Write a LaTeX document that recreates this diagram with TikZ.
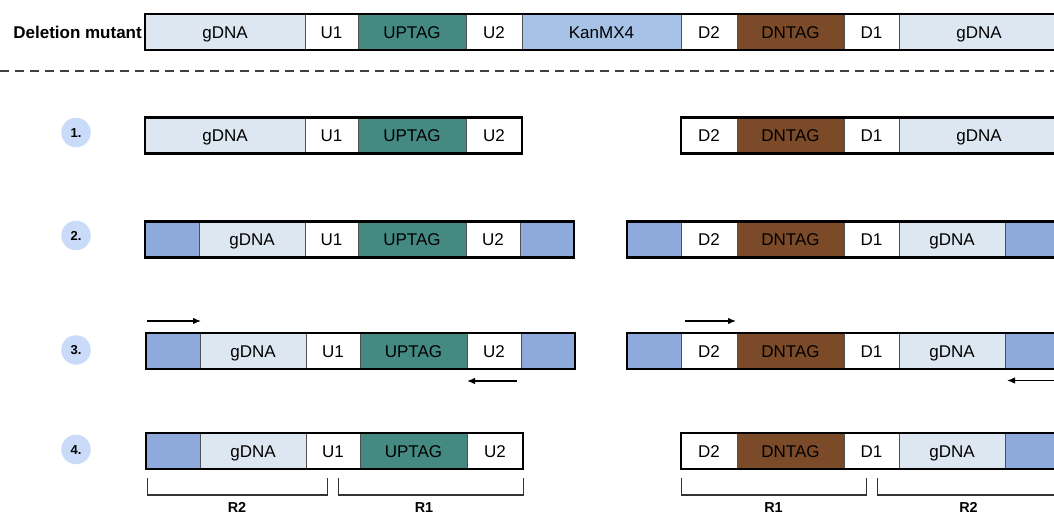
\documentclass[tikz,border=0pt]{standalone}
\usepackage{fontspec}
\setmainfont{Liberation Sans}
\usetikzlibrary{positioning}
\usetikzlibrary{arrows.meta}

\definecolor{gdnacol}{HTML}{DDE7F1}
\definecolor{uptagcol}{HTML}{448A83}
\definecolor{dntagcol}{HTML}{7B4A28}
\definecolor{kancol}{HTML}{A6C2E6}
\definecolor{tailcol}{HTML}{8EAADC}
\definecolor{numcol}{HTML}{C9DBF8}
\definecolor{segline}{HTML}{505050}
\definecolor{brkcol}{HTML}{333333}

\tikzset{
  seg/.style={draw=segline, line width=0.8pt, minimum height=36pt, inner sep=0pt, outer sep=0pt,
    text height=12.2pt, text depth=0pt, font=\fontsize{17}{17}\selectfont},
  gdna/.style={seg, fill=gdnacol},
  flank/.style={seg, fill=white},
  uptag/.style={seg, fill=uptagcol},
  dntag/.style={seg, fill=dntagcol},
  kan/.style={seg, fill=kancol},
  tail/.style={seg, fill=tailcol},
  bar/.style={draw=black, line width=2.6pt},
  numdot/.style={circle, fill=numcol, minimum size=29.5pt, inner sep=0pt,
    text height=9.4pt, text depth=0pt, font=\bfseries\fontsize{13}{13}\selectfont},
  primer/.style={line width=1.3pt, -{Latex[length=8pt,width=6.5pt]}},
  brk/.style={draw=brkcol, line width=1.3pt},
  rname/.style={inner sep=0pt, text height=10.3pt, text depth=0pt, font=\bfseries\fontsize{14.4}{14.4}\selectfont},
}

\begin{document}
\begin{tikzpicture}[x=1pt, y=-1pt]
\useasboundingbox (0,0) rectangle (1054,518);
\clip (0,0) rectangle (1054,518);

\node[gdna, minimum width=160pt] (t1) at (225,32) {gDNA};
\node[flank, minimum width=53pt] (t2) at (331.5,32) {U1};
\node[uptag, minimum width=108pt] (t3) at (412,32) {UPTAG};
\node[flank, minimum width=56pt] (t4) at (494,32) {U2};
\node[kan, minimum width=159pt] (t5) at (601.5,32) {KanMX4};
\node[flank, minimum width=56pt] (t6) at (709,32) {D2};
\node[dntag, minimum width=107pt] (t7) at (790.5,32) {DNTAG};
\node[flank, minimum width=55pt] (t8) at (871.5,32) {D1};
\node[gdna, minimum width=160pt] (t9) at (979,32) {gDNA};
\draw[bar] (t1.north west) rectangle (t9.south east);
\node[inner sep=0pt, text height=12.2pt, text depth=0pt, font=\bfseries\fontsize{17}{17}\selectfont,
  left=3pt of t1] (mutant) {Deletion mutant};

\coordinate (dl) at (0,71);
\coordinate (dr) at (1054,71);
\draw[draw=black!75, line width=1.6pt, dash pattern=on 9pt off 6pt] (dl) -- (dr);

\node[numdot] (n1) at (76,132.5) {1.};
\node[gdna, minimum width=160pt] (r1a) at (225,135.5) {gDNA};
\node[flank, minimum width=53pt] (r1b) at (331.5,135.5) {U1};
\node[uptag, minimum width=108pt] (r1c) at (412,135.5) {UPTAG};
\node[flank, minimum width=56pt] (r1d) at (494,135.5) {U2};
\draw[bar] (r1a.north west) rectangle (r1d.south east);
\node[flank, minimum width=56pt] (r1e) at (709,135.5) {D2};
\node[dntag, minimum width=107pt] (r1f) at (790.5,135.5) {DNTAG};
\node[flank, minimum width=55pt] (r1g) at (871.5,135.5) {D1};
\node[gdna, minimum width=160pt] (r1h) at (979,135.5) {gDNA};
\draw[bar] (r1e.north west) rectangle (r1h.south east);

\node[numdot] (n2) at (76,235.5) {2.};
\node[tail, minimum width=54pt] (r2a) at (172,239.5) {};
\node[gdna, minimum width=106pt] (r2b) at (252,239.5) {gDNA};
\node[flank, minimum width=53pt] (r2c) at (331.5,239.5) {U1};
\node[uptag, minimum width=108pt] (r2d) at (412,239.5) {UPTAG};
\node[flank, minimum width=54pt] (r2e) at (493,239.5) {U2};
\node[tail, minimum width=54pt] (r2f) at (547,239.5) {};
\draw[bar] (r2a.north west) rectangle (r2f.south east);
\node[tail, minimum width=54pt] (r2g) at (654,239.5) {};
\node[flank, minimum width=56pt] (r2h) at (709,239.5) {D2};
\node[dntag, minimum width=107pt] (r2i) at (790.5,239.5) {DNTAG};
\node[flank, minimum width=55pt] (r2j) at (871.5,239.5) {D1};
\node[gdna, minimum width=106pt] (r2k) at (952,239.5) {gDNA};
\node[tail, minimum width=54pt] (r2l) at (1032,239.5) {};
\draw[bar] (r2g.north west) rectangle (r2l.south east);

\node[numdot] (n3) at (76,350) {3.};
\node[tail, minimum width=54pt] (r3a) at (173,351) {};
\node[gdna, minimum width=106pt] (r3b) at (253,351) {gDNA};
\node[flank, minimum width=54pt] (r3c) at (333,351) {U1};
\node[uptag, minimum width=107pt] (r3d) at (413.5,351) {UPTAG};
\node[flank, minimum width=54pt] (r3e) at (494,351) {U2};
\node[tail, minimum width=54pt] (r3f) at (548,351) {};
\draw[bar] (r3a.north west) rectangle (r3f.south east);
\node[tail, minimum width=54pt] (r3g) at (654,351) {};
\node[flank, minimum width=56pt] (r3h) at (709,351) {D2};
\node[dntag, minimum width=107pt] (r3i) at (790.5,351) {DNTAG};
\node[flank, minimum width=55pt] (r3j) at (871.5,351) {D1};
\node[gdna, minimum width=106pt] (r3k) at (952,351) {gDNA};
\node[tail, minimum width=54pt] (r3l) at (1032,351) {};
\draw[bar] (r3g.north west) rectangle (r3l.south east);

\coordinate (p1s) at (147,321);
\coordinate (p1e) at (201,321);
\coordinate (p2s) at (517,381);
\coordinate (p2e) at (467,381);
\coordinate (p3s) at (685,321);
\coordinate (p3e) at (736,321);
\coordinate (p4s) at (1062,380.5);
\coordinate (p4e) at (1007,380.5);
\draw[primer] (p1s) -- (p1e);
\draw[primer] (p2s) -- (p2e);
\draw[primer] (p3s) -- (p3e);
\draw[primer] (p4s) -- (p4e);

\node[numdot] (n4) at (76,449.5) {4.};
\node[tail, minimum width=54pt] (r4a) at (173,451) {};
\node[gdna, minimum width=106pt] (r4b) at (253,451) {gDNA};
\node[flank, minimum width=54pt] (r4c) at (333,451) {U1};
\node[uptag, minimum width=107pt] (r4d) at (413.5,451) {UPTAG};
\node[flank, minimum width=56pt] (r4e) at (495,451) {U2};
\draw[bar] (r4a.north west) rectangle (r4e.south east);
\node[flank, minimum width=56pt] (r4f) at (709,451) {D2};
\node[dntag, minimum width=107pt] (r4g) at (790.5,451) {DNTAG};
\node[flank, minimum width=55pt] (r4h) at (871.5,451) {D1};
\node[gdna, minimum width=106pt] (r4i) at (952,451) {gDNA};
\node[tail, minimum width=54pt] (r4j) at (1032,451) {};
\draw[bar] (r4f.north west) rectangle (r4j.south east);

\coordinate (k1s) at (147.5,478);
\coordinate (k1e) at (327.5,478);
\coordinate (k2s) at (338.5,478);
\coordinate (k2e) at (523.5,478);
\coordinate (k3s) at (681.5,478);
\coordinate (k3e) at (866.5,478);
\coordinate (k4s) at (877.5,478);
\coordinate (k4e) at (1062,478);
\draw[brk] (k1s) -- ++(0,17) -| (k1e);
\draw[brk] (k2s) -- ++(0,17) -| (k2e);
\draw[brk] (k3s) -- ++(0,17) -| (k3e);
\draw[brk] (k4s) -- ++(0,17) -| (k4e);
\node[rname] (lr2a) at (237,507.5) {R2};
\node[rname] (lr1a) at (424,507.5) {R1};
\node[rname] (lr1b) at (773.5,507.5) {R1};
\node[rname] (lr2b) at (968.5,507.5) {R2};
\end{tikzpicture}
\end{document}
